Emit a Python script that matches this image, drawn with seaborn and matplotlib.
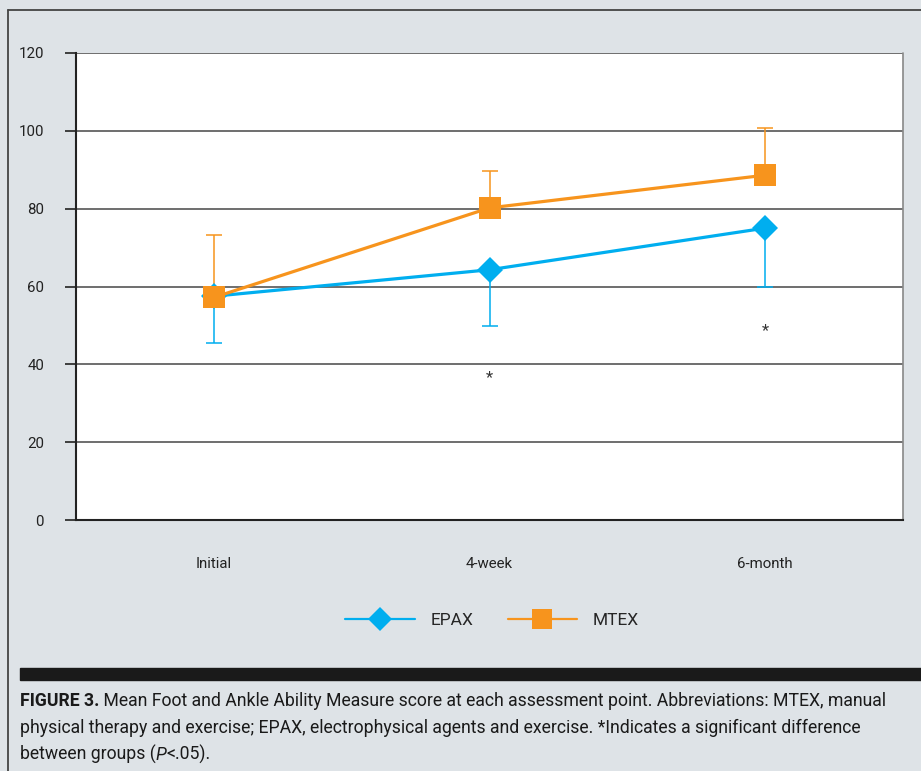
import numpy as np
import pandas as pd
import matplotlib
matplotlib.use("Agg")
import matplotlib.pyplot as plt
import seaborn as sns
from matplotlib.lines import Line2D
from matplotlib.patches import Rectangle

# --- chart data ---
timepoints = ["Initial", "4-week", "6-month"]
epax_mean = [57.5, 64.3, 75.0]
epax_sd = [12.0, 14.5, 15.0]      # drawn downward only
mtex_mean = [57.2, 80.2, 88.6]
mtex_sd = [16.0, 9.6, 12.0]       # drawn upward only
star_y = [None, 36.5, 48.8]       # significance markers

blue = "#00aeef"
orange = "#f7941d"
bg = "#dee3e7"

sns.set_theme(style="white")
plt.rcParams["font.family"] = ["Roboto", "DejaVu Sans"]

df = pd.DataFrame({
    "x": list(range(3)) * 2,
    "score": epax_mean + mtex_mean,
    "group": ["EPAX"] * 3 + ["MTEX"] * 3,
})

fig = plt.figure(figsize=(9.21, 7.71), dpi=100, facecolor=bg)
ax = fig.add_axes([76 / 921, 251 / 771, 827 / 921, 467 / 771])
ax.set_facecolor("white")

# error bars first so the markers sit on top
xs = np.arange(3)
ax.errorbar(xs, epax_mean, yerr=[epax_sd, [0] * 3], fmt="none", ecolor=blue,
            elinewidth=1.1, capsize=6, capthick=1.1, zorder=2)
ax.errorbar(xs, mtex_mean, yerr=[[0] * 3, mtex_sd], fmt="none", ecolor=orange,
            elinewidth=1.1, capsize=6, capthick=1.1, zorder=2)

sns.lineplot(data=df, x="x", y="score", hue="group", style="group",
             palette={"EPAX": blue, "MTEX": orange},
             markers={"EPAX": "D", "MTEX": "s"}, dashes=False,
             linewidth=2.3, markersize=16, markeredgewidth=0,
             legend=False, ax=ax, zorder=3)
# seaborn does not let us size markers per group; shrink the diamond a bit
for ln in ax.lines:
    if ln.get_marker() == "D":
        ln.set_markersize(13.5)

for x, y in zip(xs, star_y):
    if y is not None:
        ax.text(x, y, "*", ha="center", va="center", fontsize=12, color="#333333")

ax.set_xlim(-0.5, 2.5)
ax.set_ylim(0, 120)
ax.set_yticks(range(0, 121, 20))
ax.set_xticks(xs)
ax.set_xticklabels(timepoints)
ax.set_xticks([-0.5, 0.5, 1.5, 2.5], minor=True)
ax.set_xlabel("")
ax.set_ylabel("")
ax.yaxis.grid(True, color="#555555", linewidth=1.2)
ax.set_axisbelow(True)
ax.tick_params(axis="x", which="major", length=0, pad=27, labelsize=10.8, labelcolor="#222222")
ax.tick_params(axis="x", which="minor", length=8, width=1.2, color="#222222", direction="out")
ax.tick_params(axis="y", length=8, width=1.2, color="#222222", pad=15, labelsize=10.8,
               labelcolor="#222222", left=True)
for side in ["top", "right"]:
    ax.spines[side].set_visible(False)
for side in ["left", "bottom"]:
    ax.spines[side].set_color("#222222")
    ax.spines[side].set_linewidth(1.5)
ax.plot([2.5, 2.5], [0, 120], color="#888888", lw=1.2, clip_on=False, zorder=1)

handles = [
    Line2D([], [], color=blue, marker="D", markersize=12, lw=1.6, markeredgewidth=0),
    Line2D([], [], color=orange, marker="s", markersize=14, lw=1.6, markeredgewidth=0),
]
fig.legend(handles, ["EPAX", "MTEX"], loc="center", bbox_to_anchor=(492 / 921, 1 - 620 / 771),
           ncol=2, frameon=False, handlelength=4.0, columnspacing=2.0, handletextpad=0.9,
           fontsize=12.5)

# frame lines and caption bar
fig.add_artist(Line2D([8 / 921, 8 / 921], [0, 1 - 10 / 771], color="#444444", lw=1.3))
fig.add_artist(Line2D([8 / 921, 1], [1 - 10 / 771, 1 - 10 / 771], color="#444444", lw=1.3))
fig.add_artist(Rectangle((20 / 921, 1 - 680 / 771), 1, 12 / 771, color="#1a1a1a",
                         transform=fig.transFigure))

cap_size = 12.7
x0 = 20 / 921
t1 = fig.text(x0, 1 - 710 / 771, "FIGURE 3.", fontsize=cap_size, fontweight="bold",
              color="#1a1a1a", va="bottom")
ax.annotate(" Mean Foot and Ankle Ability Measure score at each assessment point. "
            "Abbreviations: MTEX, manual", xy=(1, 0), xycoords=t1, va="bottom",
            fontsize=cap_size, color="#1a1a1a", annotation_clip=False)
fig.text(x0, 1 - 737 / 771, "physical therapy and exercise; EPAX, electrophysical agents and "
         "exercise. *Indicates a significant difference", fontsize=cap_size, color="#1a1a1a",
         va="bottom")
t3 = fig.text(x0, 1 - 764 / 771, "between groups (", fontsize=cap_size, color="#1a1a1a",
              va="bottom")
t4 = ax.annotate("P", xy=(1, 0), xycoords=t3, va="bottom", fontsize=cap_size,
                 fontstyle="italic", color="#1a1a1a", annotation_clip=False)
ax.annotate("<.05).", xy=(1, 0), xycoords=t4, va="bottom", fontsize=cap_size,
            color="#1a1a1a", annotation_clip=False)

fig.savefig("out.png", dpi=100, facecolor=bg)
